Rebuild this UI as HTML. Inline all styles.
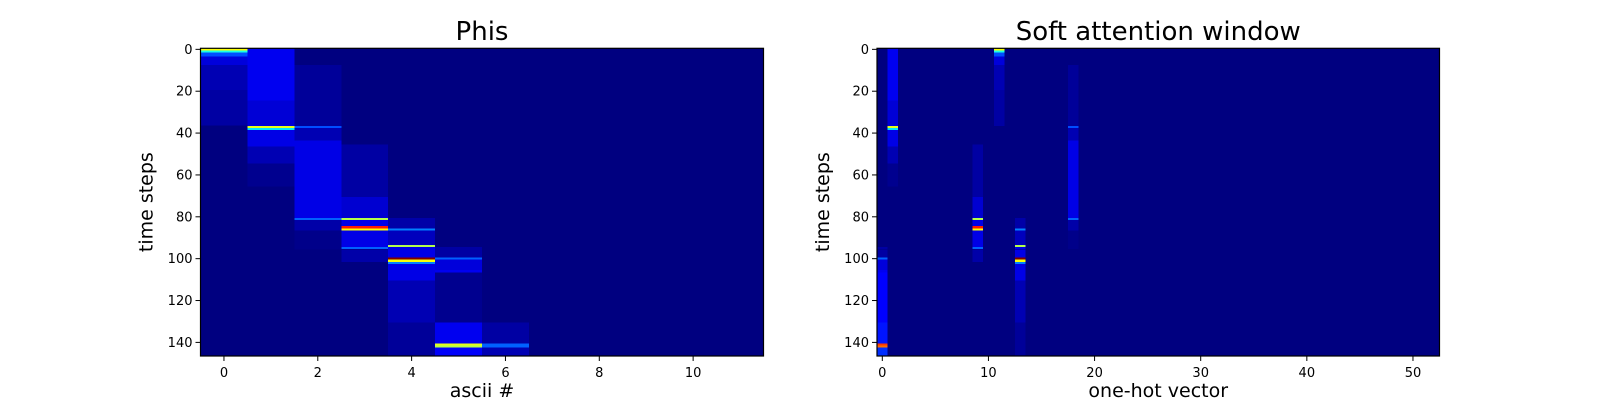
<!DOCTYPE html>
<html><head><meta charset="utf-8"><style>
html,body{margin:0;padding:0;background:#fff;}
svg{display:block;font-family:"DejaVu Sans","Liberation Sans",sans-serif;}
</style></head><body>
<svg id="fig" width="1600" height="400" viewBox="0 0 1600 400" xmlns="http://www.w3.org/2000/svg">
<rect width="1600" height="400" fill="#fff"/>
</svg>
<script>
// Segments of phi values per ascii column: [column, rowStart, rowEnd, value]
const phiCols   = [0,0,0,0,0,0, 1,1,1,1,1,1,1, 2,2,2,2,2,2,2, 3,3,3,3,3,3,3,3,3, 4,4,4,4,4,4,4,4,4,4,4, 5,5,5,5,5,5,5,5, 6,6,6,6];
const phiStarts = [0,1,2,4,8,20, 0,25,37,38,39,47,55, 8,37,38,44,81,82,87, 46,71,81,82,85,86,87,95,96, 81,86,87,94,95,100,101,102,103,111,131, 95,100,101,106,141,142,143, 107,131,141,143];
const phiEnds   = [0,1,3,7,19,36, 24,36,37,38,46,54,65, 36,37,43,80,81,86,95, 70,80,81,84,85,86,94,95,101, 85,86,93,94,99,100,101,102,110,130,146, 99,100,105,140,141,142,146, 130,140,142,146];
const phiVals   = [0.62,0.4,0.2,0.09,0.05,0.035, 0.11,0.085,0.6,0.35,0.1,0.05,0.015, 0.025,0.2,0.05,0.1,0.22,0.04,0.01, 0.035,0.08,0.55,0.1,0.85,0.62,0.1,0.22,0.04, 0.04,0.25,0.06,0.55,0.1,1.0,0.62,0.25,0.1,0.05,0.025, 0.035,0.22,0.09,0.11,0.6,0.55,0.12, 0.015,0.035,0.22,0.05];
// one-hot index of each ascii column in the attention window
const charIndex = [11, 1, 18, 9, 13, 0, 0];
const nRows = 147, nAscii = 12, nOneHot = 53;
const leftXTicks = [0,2,4,6,8,10];
const rightXTicks = [0,10,20,30,40,50];
const yTicks = [0,20,40,60,80,100,120,140];

const NS = "http://www.w3.org/2000/svg";
const svg = document.getElementById('fig');
function mk(tag, attrs, parent){const e=document.createElementNS(NS,tag);for(const k in attrs)e.setAttribute(k,attrs[k]);(parent||svg).appendChild(e);return e;}
function jet(v){
  v=Math.max(0,Math.min(1,v));
  const c=x=>Math.max(0,Math.min(1,x));
  const r=c(1.5-Math.abs(4*v-3)), g=c(1.5-Math.abs(4*v-2)), b=c(1.5-Math.abs(4*v-1));
  return `rgb(${Math.round(r*255)},${Math.round(g*255)},${Math.round(b*255)})`;
}
function drawAxes(cfg){
  const {name,x0,x1,y0,y1,ncols,xticks,title,xlabel,ylabel,segs} = cfg;
  const g = mk('g',{});
  
  
  const sx = c => x0 + (c+0.5)*(x1-x0)/ncols;
  const sy = r => y0 + (r+0.5)*(y1-y0)/nRows;
  const cw = (x1-x0)/ncols, rh=(y1-y0)/nRows;
  const bg = mk('rect',{x:x0,y:y0,width:x1-x0,height:y1-y0,fill:jet(0)},g);
  
  
  segs.forEach(s=>{
    const r = mk('rect',{x:(sx(s[0])-cw/2).toFixed(2),y:(sy(s[1])-rh/2).toFixed(2),width:cw.toFixed(2),height:((s[2]-s[1]+1)*rh).toFixed(2),fill:jet(s[3]),'shape-rendering':'crispEdges'},g);
    
    
  });
  const fr = mk('rect',{x:x0,y:y0,width:x1-x0,height:y1-y0,fill:'none',stroke:'#000','stroke-width':1.2},g);
  
  
  xticks.forEach(t=>{
    const x=sx(t);
    mk('line',{x1:x,x2:x,y1:y1,y2:y1+5,stroke:'#000','stroke-width':1},g);
    const tx=mk('text',{x:x,y:y1+21,'font-size':13,'text-anchor':'middle',fill:'#000'},g);
    tx.textContent=t;
    
    
  });
  yTicks.forEach(t=>{
    const y=sy(t);
    mk('line',{x1:x0-5,x2:x0,y1:y,y2:y,stroke:'#000','stroke-width':1},g);
    const tx=mk('text',{x:x0-8,y:y+4.5,'font-size':13,'text-anchor':'end',fill:'#000'},g);
    tx.textContent=t;
    
    
  });
  const tt=mk('text',{x:(x0+x1)/2,y:40,'font-size':26,'text-anchor':'middle',fill:'#000'},g);
  tt.textContent=title;
  
  
  const xl=mk('text',{x:(x0+x1)/2,y:397,'font-size':19,'text-anchor':'middle',fill:'#000'},g);
  xl.textContent=xlabel;
  
  
  const yc=(y0+y1)/2, xc=x0-54;
  const yl=mk('text',{x:xc,y:yc,'font-size':19,'text-anchor':'middle','dominant-baseline':'central',transform:`rotate(-90 ${xc} ${yc})`,fill:'#000'},g);
  yl.textContent=ylabel;
  
  
}
const leftSegs = phiCols.map((c,i)=>[c,phiStarts[i],phiEnds[i],phiVals[i]]);
// attention window = sum of phis over the one-hot index of each char
const win = {};
phiCols.forEach((c,i)=>{
  const k=charIndex[c];
  for(let r=phiStarts[i];r<=phiEnds[i];r++){const key=k+'_'+r;win[key]=(win[key]||0)+phiVals[i];}
});
const rightSegs = Object.keys(win).map(key=>{const [k,r]=key.split('_').map(Number);return [k,r,r,win[key]];});
drawAxes({name:'phis-heatmap',x0:200.5,x1:763.5,y0:48.3,y1:356,ncols:nAscii,xticks:leftXTicks,title:'Phis',xlabel:'ascii #',ylabel:'time steps',segs:leftSegs});
drawAxes({name:'attention-window-heatmap',x0:877,x1:1439.5,y0:48.3,y1:356,ncols:nOneHot,xticks:rightXTicks,title:'Soft attention window',xlabel:'one-hot vector',ylabel:'time steps',segs:rightSegs});
</script>
</body></html>
